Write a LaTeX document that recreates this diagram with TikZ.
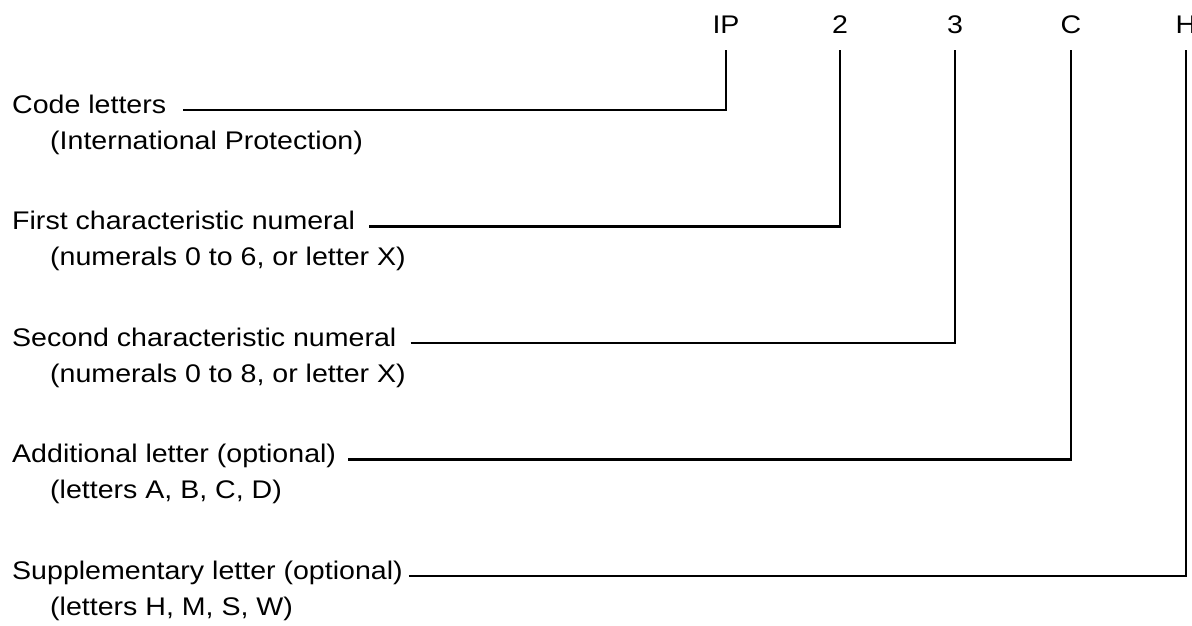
\documentclass[tikz,border=0pt]{standalone}
\usepackage{fontspec}
\setmainfont{Liberation Sans}[FakeStretch=1.12]
\begin{document}
\begin{tikzpicture}[x=1pt,y=-1pt,
  txt/.style={anchor=base west, inner sep=0pt, font=\fontsize{25.5}{30}\selectfont},
  code/.style={anchor=base, inner sep=0pt, font=\fontsize{25.5}{30}\selectfont},
  lead/.style={line width=2.8pt, line join=miter}]
\useasboundingbox (0,0) rectangle (1192,625);
% code characters
\node[code] (ip) at (726,33) {IP};
\node[code] (n2) at (840,33) {2};
\node[code] (n3) at (955,33) {3};
\node[code] (lc) at (1071,33) {C};
\node[code] (lh) at (1186,33) {H};
% descriptions
\node[txt] (t1) at (12,113) {Code letters};
\node[txt] (s1) at (50,149) {(International Protection)};
\node[txt] (t2) at (12,229.5) {First characteristic numeral};
\node[txt] (s2) at (50,265.5) {(numerals 0 to 6, or letter X)};
\node[txt] (t3) at (12,346) {Second characteristic numeral};
\node[txt] (s3) at (50,382) {(numerals 0 to 8, or letter X)};
\node[txt] (t4) at (12,462.5) {Additional letter (optional)};
\node[txt] (s4) at (50,498.5) {(letters A, B, C, D)};
\node[txt] (t5) at (12,579) {Supplementary letter (optional)};
\node[txt] (s5) at (50,615) {(letters H, M, S, W)};
% leaders
\draw[lead] ([xshift=17pt,yshift=3pt]t1.base east) -| ([yshift=-17pt]ip.south);
\draw[lead] ([xshift=14pt,yshift=3pt]t2.base east) -| ([yshift=-17pt]n2.south);
\draw[lead] ([xshift=14pt,yshift=3pt]t3.base east) -| ([yshift=-17pt]n3.south);
\draw[lead] ([xshift=12pt,yshift=3pt]t4.base east) -| ([yshift=-17pt]lc.south);
\draw[lead] ([xshift=6pt,yshift=3pt]t5.base east) -| ([yshift=-17pt]lh.south);
\end{tikzpicture}
\end{document}
